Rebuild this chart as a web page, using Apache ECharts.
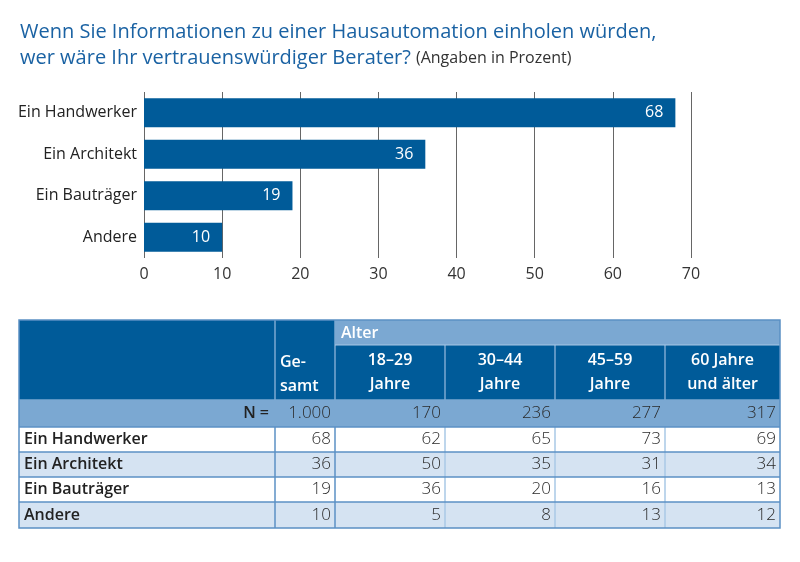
<!DOCTYPE html>
<html><head><meta charset="utf-8">
<script src="https://cdn.jsdelivr.net/npm/echarts@6/dist/echarts.min.js"></script>
<style>html,body{margin:0;padding:0;background:#fff}#c{width:800px;height:562px}</style>
</head><body><div id="c"></div>
<script>
// ---- data ----
const titleLine1 = 'Wenn Sie Informationen zu einer Hausautomation einholen würden,';
const titleLine2 = 'wer wäre Ihr vertrauenswürdiger Berater?';
const titleNote = '(Angaben in Prozent)';
const categories = ['Ein Handwerker', 'Ein Architekt', 'Ein Bauträger', 'Andere'];
const values = [68, 36, 19, 10];
const axisMin = 0, axisMax = 70, axisStep = 10;

const groupLabel = 'Alter';
const columnHeaders = ['Ge-\nsamt', '18–29\nJahre', '30–44\nJahre', '45–59\nJahre', '60 Jahre\nund älter'];
const nLabel = 'N =';
const nValues = ['1.000', '170', '236', '277', '317'];
const rowLabels = ['Ein Handwerker', 'Ein Architekt', 'Ein Bauträger', 'Andere'];
const rowHandwerker = [68, 62, 65, 73, 69];
const rowArchitekt = [36, 50, 35, 31, 34];
const rowBautraeger = [19, 36, 20, 16, 13];
const rowAndere = [10, 5, 8, 13, 12];
const tableRows = [rowHandwerker, rowArchitekt, rowBautraeger, rowAndere];

// ---- layout / style ----
const FONT = 'Open Sans';
const DARK = '#005b99';
const MID = '#7ba8d2';
const LIGHT = '#d5e3f2';
const LINE = '#5b90c4';
const colEdges = [19, 275, 335, 445, 555, 665, 780];
const rowEdges = [320, 345, 400, 427, 452, 477, 502, 528];

const g = [];
function rect(x, y, w, h, fill) { g.push({ type: 'rect', shape: { x, y, width: w, height: h }, style: { fill }, silent: true }); }
function line(x1, y1, x2, y2, stroke, lw) { g.push({ type: 'line', shape: { x1, y1, x2, y2 }, style: { stroke, lineWidth: lw || 1 }, silent: true }); }
function text(x, y, t, opt) {
  g.push({ type: 'text', x, y, silent: true, style: Object.assign({ text: t, fontFamily: FONT, fontSize: 16, fill: '#222', align: 'left', verticalAlign: 'middle' }, opt) });
}
const L = colEdges[0], R = colEdges[colEdges.length - 1];
const HB = 600;
// header backgrounds
rect(L, rowEdges[0], R - L, rowEdges[2] - rowEdges[0], DARK);
rect(colEdges[2], rowEdges[0], R - colEdges[2], rowEdges[1] - rowEdges[0], MID);
text(colEdges[2] + 6, (rowEdges[0] + rowEdges[1]) / 2 + 1, groupLabel, { fill: '#fff', fontWeight: HB });
// N row
rect(L, rowEdges[2], R - L, rowEdges[3] - rowEdges[2], MID);
// data rows
tableRows.forEach((r, i) => {
  const y0 = rowEdges[3 + i], y1 = rowEdges[4 + i];
  rect(L, y0, R - L, y1 - y0, i % 2 === 0 ? '#ffffff' : LIGHT);
});
// header texts
columnHeaders.forEach((h, j) => {
  const x0 = colEdges[1 + j], x1 = colEdges[2 + j];
  const lines = h.split('\n');
  if (j === 0) {
    text(x0 + 5, 362, lines[0], { fill: '#fff', fontWeight: HB });
    text(x0 + 5, 386, lines[1], { fill: '#fff', fontWeight: HB });
  } else {
    text((x0 + x1) / 2, 360, lines[0], { fill: '#fff', fontWeight: HB, align: 'center' });
    text((x0 + x1) / 2, 384, lines[1], { fill: '#fff', fontWeight: HB, align: 'center' });
  }
});
// N row texts
text(colEdges[1] - 6, (rowEdges[2] + rowEdges[3]) / 2, nLabel, { fontWeight: HB, align: 'right' });
nValues.forEach((v, j) => text(colEdges[2 + j] - 4, (rowEdges[2] + rowEdges[3]) / 2, v, { align: 'right', fill: '#2a2a2a', fontSize: 17, fontWeight: 300 }));
// data texts
tableRows.forEach((r, i) => {
  const yc = (rowEdges[3 + i] + rowEdges[4 + i]) / 2;
  text(L + 5, yc, rowLabels[i], { fontWeight: HB });
  r.forEach((v, j) => text(colEdges[2 + j] - 4, yc, String(v), { align: 'right', fill: '#2a2a2a', fontSize: 17, fontWeight: 300 }));
});
// grid lines
for (let j = 1; j < colEdges.length - 1; j++) {
  const x = colEdges[j];
  line(x, j >= 3 ? rowEdges[1] : rowEdges[0], x, rowEdges[3], MID, 1.5);
  line(x, rowEdges[3], x, rowEdges[rowEdges.length - 1], j <= 2 ? LINE : '#a9c8e6', 1.5);
}
line(colEdges[2], rowEdges[1], R, rowEdges[1], '#a9c8e6', 1);
line(L, rowEdges[2], R, rowEdges[2], MID, 1.5);
for (let i = 3; i < rowEdges.length - 1; i++) line(L, rowEdges[i], R, rowEdges[i], LINE, 1.5);
g.push({ type: 'rect', shape: { x: L, y: rowEdges[0], width: R - L, height: rowEdges[rowEdges.length - 1] - rowEdges[0] }, style: { fill: 'none', stroke: LINE, lineWidth: 1.5 }, silent: true });

const chart = echarts.init(document.getElementById('c'), null, { renderer: 'canvas' });
chart.setOption({
  animation: false,
  backgroundColor: '#fff',
  title: {
    left: 15, top: 14,
    text: '{a|' + titleLine1 + '}\n{a|' + titleLine2 + '} {b|' + titleNote + '}',
    textStyle: {
      fontWeight: 'normal',
      rich: {
        a: { fontFamily: FONT, fontSize: 20, fontWeight: 'normal', color: '#1a62a3', lineHeight: 26 },
        b: { fontFamily: FONT, fontSize: 16, fontWeight: 'normal', color: '#333', lineHeight: 26 }
      }
    }
  },
  grid: { left: 144, right: 109, top: 92, bottom: 304, containLabel: false },
  xAxis: {
    type: 'value', min: axisMin, max: axisMax, interval: axisStep,
    axisLine: { show: false }, axisTick: { show: false },
    splitLine: { show: true, lineStyle: { color: '#666', width: 1 } },
    axisLabel: { fontFamily: FONT, fontSize: 16, color: '#333', margin: 8 }
  },
  yAxis: {
    type: 'category', data: categories, inverse: true,
    axisLine: { show: false }, axisTick: { show: false },
    axisLabel: { fontFamily: FONT, fontSize: 16, color: '#222', margin: 7 }
  },
  series: [{
    type: 'bar', data: values, barWidth: 29,
    itemStyle: { color: DARK },
    label: { show: true, position: 'insideRight', distance: 12, color: '#fff', fontFamily: FONT, fontSize: 16 }
  }],
  graphic: g
});
</script></body></html>
